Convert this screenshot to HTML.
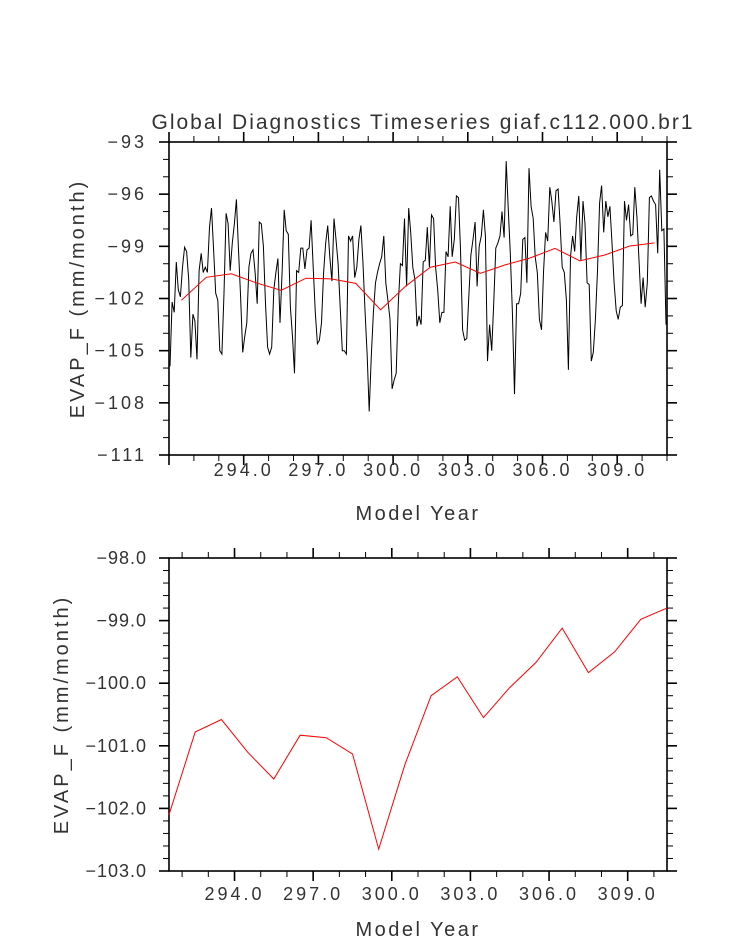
<!DOCTYPE html>
<html><head><meta charset="utf-8"><style>
body{margin:0;background:#fff}
svg{display:block}
text{font-family:"Liberation Sans",sans-serif;fill:#333}
</style></head><body>
<svg id="c" width="733" height="945"></svg>
<script>
const annualYears=[291.5,292.5,293.5,294.5,295.5,296.5,297.5,298.5,299.5,300.5,301.5,302.5,303.5,304.5,305.5,306.5,307.5,308.5,309.5,310.5];
const annualValues=[-102.1,-100.78,-100.58,-101.1,-101.53,-100.83,-100.87,-101.13,-102.65,-101.3,-100.2,-99.9,-100.55,-100.07,-99.67,-99.12,-99.83,-99.5,-98.98,-98.8];
const monthlyValues=[-105.9,-102.2,-102.8,-99.9,-101.5,-101.9,-100.2,-99.05,-99.3,-100.9,-105.4,-102.9,-103.3,-105.5,-100.4,-99.4,-100.5,-100.2,-100.5,-97.9,-96.8,-99.2,-101.7,-102.1,-105,-105.2,-101.7,-97.1,-97.7,-100.4,-98.8,-97.7,-96.3,-99.2,-101.9,-105.1,-104.2,-103.4,-100.2,-99.4,-99.2,-100.5,-102.3,-97.6,-97.7,-99,-102.3,-104.8,-105.2,-104.8,-101.5,-100.5,-99.7,-103.4,-100.5,-96.9,-98.1,-98.3,-102.5,-104.2,-106.3,-100.4,-100.5,
-99.1,-99.1,-100.3,-99.2,-99.1,-97.5,-100.2,-102.8,-104.6,-104.4,-103.4,-100.5,-98.8,-97.8,-99.6,-101.0,-97.4,-98.6,-100.0,-102.5,-105.0,-105.0,-105.2,-98.4,-98.7,-98.4,-100.8,-100.2,-98.6,-97.8,-100.0,-102.8,-105.3,-108.5,-105.3,-102.8,-101.1,-100.5,-100.0,-99.6,-98.4,-101.1,-102.1,-103.2,-107.2,-106.7,-106.3,-102.3,-100.0,-100.1,-97.4,-101.3,-96.8,-98.2,-100.2,-100.9,-103.6,-103.0,-103.5,-99.9,-99.8,-97.9,-100.2,
-97.2,-97.4,-100.2,-101.5,-103.4,-102.8,-102.8,-99.3,-99.6,-96.7,-99.6,-98.6,-96.1,-96.2,-99.2,-103.8,-104.4,-104.3,-101.9,-99.5,-98.6,-97.6,-101.3,-99.0,-98.4,-96.9,-98.4,-105.6,-103.5,-105.0,-102.3,-99.1,-98.8,-98.4,-97.0,-98.5,-94.1,-96.9,-99.4,-102.8,-107.5,-102.3,-102.3,-101.7,-98.6,-98.5,-101.1,-94.5,-96.7,-97.4,-99.6,-100.5,-103.2,-103.8,-100.5,-98.2,-98.7,-95.6,-96.4,-97.6,-95.8,
-95.7,-97.7,-100.2,-100.5,-102.1,-106.1,-99.6,-98.4,-99.3,-97.3,-96.1,-99.8,-96.4,-97.7,-101.1,-101.2,-105.6,-105.1,-103.2,-100.4,-96.5,-95.5,-98.2,-96.4,-97.3,-96.7,-98.8,-101.1,-102.7,-103.2,-102.5,-102.4,-96.4,-97.5,-96.6,-98.4,-98.3,-95.6,-97.3,-99.8,-102.3,-100.8,-102.5,-101.1,-96.2,-96.1,-96.4,-96.6,-99.4,-94.6,-98.1,-98.0,-103.5];
const xTickLabels=[294,297,300,303,306,309];
const topYTicks=[-93,-96,-99,-102,-105,-108,-111];
const botYTicks=[-98,-99,-100,-101,-102,-103];

const NS="http://www.w3.org/2000/svg",svg=document.getElementById('c');
function el(t,a,p){const e=document.createElementNS(NS,t);for(const k in a)e.setAttribute(k,a[k]);(p||svg).appendChild(e);return e;}
function txt(s,a,name,p){const e=el('text',a,p);e.textContent=s;return e;}
const L=169,R=667;
function panel(o){
  const g=el('g',{});
  
  
  const fx=v=>L+(v-o.x0)/(o.x1-o.x0)*(R-L);
  const fy=v=>o.T+(o.y0-v)/(o.y0-o.y1)*(o.B-o.T);
  const fr=el('rect',{x:L,y:o.T,width:R-L,height:o.B-o.T,fill:'none',stroke:'#000','stroke-width':1.6},g);
  
  for(let y=Math.ceil(o.x0);y<=o.x1;y++){
    const X=fx(y),maj=(y%3===0),len=maj?10:6;
    el('line',{x1:X,x2:X,y1:o.B,y2:o.B+len,stroke:'#000','stroke-width':maj?1.6:1},g);
    el('line',{x1:X,x2:X,y1:o.T,y2:o.T-len,stroke:'#000','stroke-width':maj?1.6:1},g);
  }
  xTickLabels.forEach(v=>txt(v.toFixed(1),{x:fx(v),y:o.B+o.xlab,'text-anchor':'middle','font-size':18,'letter-spacing':3},'x-tick-label',g));
  for(let v=o.y1;v<=o.y0+1e-9;v+=o.minor){
    const Y=fy(v),maj=Math.abs(Math.round(v/o.major)*o.major-v)<1e-6,len=maj?10:6;
    el('line',{x1:L,x2:L-len,y1:Y,y2:Y,stroke:'#000','stroke-width':maj?1.6:1},g);
    el('line',{x1:R,x2:R+len,y1:Y,y2:Y,stroke:'#000','stroke-width':maj?1.6:1},g);
  }
  o.yTicks.forEach(v=>txt('\u2212'+Math.abs(v).toFixed(o.dec),{x:L-22,y:fy(v)+6,'text-anchor':'end','font-size':18,'letter-spacing':o.yls},'y-tick-label',g));
  txt('Model Year',{x:(L+R)/2,y:o.B+65,'text-anchor':'middle','font-size':20,'letter-spacing':2.5},'x-axis-title',g);
  txt('EVAP_F (mm/month)',{x:0,y:0,'text-anchor':'middle','font-size':20,'letter-spacing':3,transform:`translate(${o.ytx},${(o.T+o.B)/2}) rotate(-90)`},'y-axis-title',g);
  o.series.forEach(s=>{
    const pts=s.xs.map((x,i)=>fx(x).toFixed(1)+','+fy(s.ys[i]).toFixed(1)).join(' ');
    const pl=el('polyline',{points:pts,fill:'none',stroke:s.c,'stroke-width':1},g);
    
    
  });
}
const monthYears=monthlyValues.map((v,i)=>291+(i+0.5)/12);
txt('Global Diagnostics Timeseries giaf.c112.000.br1',{x:423,y:129,'text-anchor':'middle','font-size':21,'letter-spacing':2},'chart-title');
panel({name:'monthly-panel',T:142,B:455,x0:291,x1:311,y0:-93,y1:-111,minor:1,major:3,yTicks:topYTicks,dec:0,ytx:84,xlab:21,yls:3,
  series:[{xs:monthYears,ys:monthlyValues,c:'#000',name:'monthly-series'},{xs:annualYears,ys:annualValues,c:'#f00',name:'annual-mean-series'}]});
panel({name:'annual-panel',T:558,B:871,x0:291.5,x1:310.5,y0:-98,y1:-103,minor:0.2,major:1,yTicks:botYTicks,dec:1,ytx:68,xlab:29,yls:1,
  series:[{xs:annualYears,ys:annualValues,c:'#f00',name:'annual-mean-series'}]});
</script>
</body></html>
